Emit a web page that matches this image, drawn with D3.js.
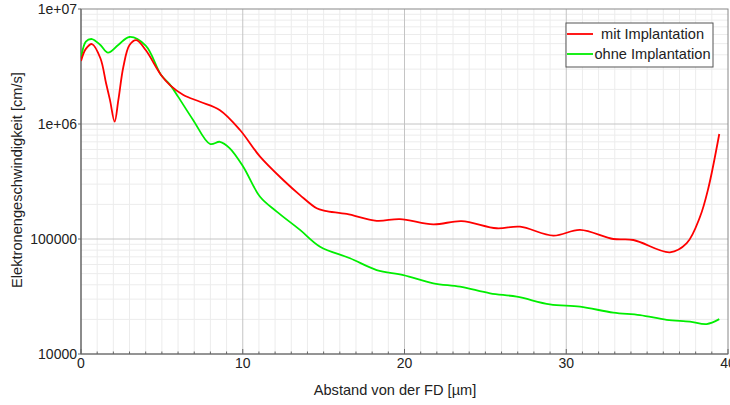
<!DOCTYPE html>
<html>
<head>
<meta charset="utf-8">
<script src="https://cdn.jsdelivr.net/npm/d3@7"></script>
<style>
  html, body { margin: 0; padding: 0; background: #fff; }
  svg { display: block; font-family: "Liberation Sans", Arial, sans-serif; }
</style>
</head>
<body>
<svg id="chart" width="730" height="405"></svg>
<script>
// ---- data ----
const seriesNames = ["mit Implantation", "ohne Implantation"];
const seriesColors = ["#ff0000", "#00ee00"];

const redX = [0, 0.3, 0.68, 1.2, 1.55, 1.79, 2.08, 2.31, 2.62, 3.0, 3.42, 4.0, 4.95, 5.5, 6.33, 7.36, 8.59, 9.83, 11.07, 12.5, 13.54, 14.57, 15.08, 16.43, 18.28, 19.72, 21.78, 23.53, 25.7, 27.14, 29.2, 30.85, 32.91, 34.15, 36.41, 37.45, 38.27, 38.78, 39.46];
const redY = [3.53e6, 4.5e6, 4.96e6, 3.73e6, 2.26e6, 1.62e6, 1.05e6, 1.62e6, 3.15e6, 4.86e6, 5.37e6, 4.4e6, 2.67e6, 2.18e6, 1.79e6, 1.56e6, 1.32e6, 8.87e5, 5.2e5, 3.26e5, 2.41e5, 1.85e5, 1.76e5, 1.65e5, 1.44e5, 1.49e5, 1.34e5, 1.43e5, 1.24e5, 1.28e5, 1.07e5, 1.2e5, 1.0e5, 9.8e4, 7.66e4, 9.2e4, 1.56e5, 2.75e5, 8.18e5];

const greenX = [0, 0.3, 0.68, 1.2, 1.67, 2.3, 3.0, 4.0, 4.95, 5.5, 6.0, 6.94, 7.98, 8.59, 9.2, 10.03, 11.07, 12.1, 13.54, 14.78, 16.63, 18.28, 19.93, 21.78, 23.43, 25.29, 26.94, 28.99, 30.85, 32.91, 34.56, 36.21, 37.65, 38.68, 39.46];
const greenY = [3.67e6, 5.2e6, 5.48e6, 4.86e6, 4.17e6, 4.86e6, 5.71e6, 4.8e6, 2.67e6, 2.2e6, 1.73e6, 1.08e6, 6.7e5, 7.0e5, 6.15e5, 4.25e5, 2.33e5, 1.73e5, 1.2e5, 8.57e4, 6.8e4, 5.37e4, 4.86e4, 4.12e4, 3.85e4, 3.37e4, 3.15e4, 2.7e4, 2.58e4, 2.29e4, 2.18e4, 1.98e4, 1.91e4, 1.82e4, 2.01e4];

const xTicks = [0, 10, 20, 30, 40];
const xTickLabels = ["0", "10", "20", "30", "40"];
const yTicks = [1e4, 1e5, 1e6, 1e7];
const yTickLabels = ["10000", "100000", "1e+06", "1e+07"];
const xTitle = "Abstand von der FD [µm]";
const yTitle = "Elektronengeschwindigkeit [cm/s]";

// ---- layout ----
const L = 81, R = 728, T = 9, B = 354;
const svg = d3.select("#chart");
const x = d3.scaleLinear().domain([0, 40]).range([L, R]);
const y = d3.scaleLog().domain([1e4, 1e7]).range([B, T]);

// minor grid
const minorX = d3.range(1, 40).filter(v => v % 10 !== 0);
const minorY = [];
[1e4, 1e5, 1e6].forEach(d => { for (let k = 2; k <= 9; k++) minorY.push(d * k); });

const grid = svg.append("g");
grid.selectAll(".mx").data(minorX).enter().append("line")
  .attr("x1", d => x(d)).attr("x2", d => x(d)).attr("y1", T).attr("y2", B)
  .attr("stroke", "#ececec").attr("stroke-width", 1);
grid.selectAll(".my").data(minorY).enter().append("line")
  .attr("x1", L).attr("x2", R).attr("y1", d => y(d)).attr("y2", d => y(d))
  .attr("stroke", "#ececec").attr("stroke-width", 1);
// major grid
grid.selectAll(".Mx").data(xTicks.slice(1, -1)).enter().append("line")
  .attr("x1", d => x(d)).attr("x2", d => x(d)).attr("y1", T).attr("y2", B)
  .attr("stroke", "#c4c4c4").attr("stroke-width", 1);
grid.selectAll(".My").data(yTicks.slice(1, -1)).enter().append("line")
  .attr("x1", L).attr("x2", R).attr("y1", d => y(d)).attr("y2", d => y(d))
  .attr("stroke", "#c4c4c4").attr("stroke-width", 1);

// frame
svg.append("rect").attr("x", L).attr("y", T).attr("width", R - L).attr("height", B - T)
  .attr("fill", "none").attr("stroke", "#888").attr("stroke-width", 1);
svg.append("line").attr("x1", L).attr("x2", L).attr("y1", T).attr("y2", B).attr("stroke", "#666").attr("stroke-width", 1.2);
svg.append("line").attr("x1", L).attr("x2", R).attr("y1", B).attr("y2", B).attr("stroke", "#666").attr("stroke-width", 1.2);

// bottom ticks (inside)
svg.append("g").selectAll("line").data(d3.range(0, 41)).enter().append("line")
  .attr("x1", d => x(d)).attr("x2", d => x(d))
  .attr("y1", B).attr("y2", d => B - (d % 10 === 0 ? 5 : 2.5))
  .attr("stroke", "#666").attr("stroke-width", 1);
// left ticks
svg.append("g").selectAll("line").data(yTicks).enter().append("line")
  .attr("x1", L - 3).attr("x2", L).attr("y1", d => y(d)).attr("y2", d => y(d))
  .attr("stroke", "#666").attr("stroke-width", 1);

// tick labels
svg.append("g").selectAll("text").data(xTicks).enter().append("text")
  .attr("x", d => x(d)).attr("y", 368).attr("text-anchor", "middle")
  .attr("font-size", 14).attr("fill", "#222").text((d, i) => xTickLabels[i]);
svg.append("g").selectAll("text").data(yTicks).enter().append("text")
  .attr("x", 77).attr("y", d => y(d) + 5).attr("text-anchor", "end")
  .attr("font-size", 14).attr("fill", "#222").text((d, i) => yTickLabels[i]);

// axis titles
svg.append("text").attr("x", 395).attr("y", 395).attr("text-anchor", "middle")
  .attr("font-size", 14.6).attr("fill", "#222").text(xTitle);
svg.append("text").attr("transform", "translate(22,180) rotate(-90)").attr("text-anchor", "middle")
  .attr("font-size", 14.6).attr("fill", "#222").text(yTitle);

// curves
const line = d3.line().x(d => x(d[0])).y(d => y(d[1])).curve(d3.curveCatmullRom.alpha(0.5));
svg.append("clipPath").attr("id", "clip").append("rect")
  .attr("x", L).attr("y", T).attr("width", R - L).attr("height", B - T);
const seriesData = [d3.zip(redX, redY), d3.zip(greenX, greenY)];
[1, 0].forEach(i => {
  svg.append("path").datum(seriesData[i])
    .attr("fill", "none").attr("stroke", seriesColors[i]).attr("stroke-width", 1.8)
    .attr("clip-path", "url(#clip)")
    .attr("d", line);
});

// legend
const lg = svg.append("g");
lg.append("rect").attr("x", 566).attr("y", 23).attr("width", 147).attr("height", 44)
  .attr("fill", "#fff").attr("stroke", "#555").attr("stroke-width", 1);
seriesNames.forEach((name, i) => {
  const yy = 34 + i * 20;
  lg.append("line").attr("x1", 567).attr("x2", 593).attr("y1", yy).attr("y2", yy)
    .attr("stroke", seriesColors[i]).attr("stroke-width", 1.8);
  lg.append("text").attr("x", 652.5).attr("y", yy + 5).attr("text-anchor", "middle")
    .attr("font-size", 14.6).attr("fill", "#222").text(name);
});
</script>
</body>
</html>
